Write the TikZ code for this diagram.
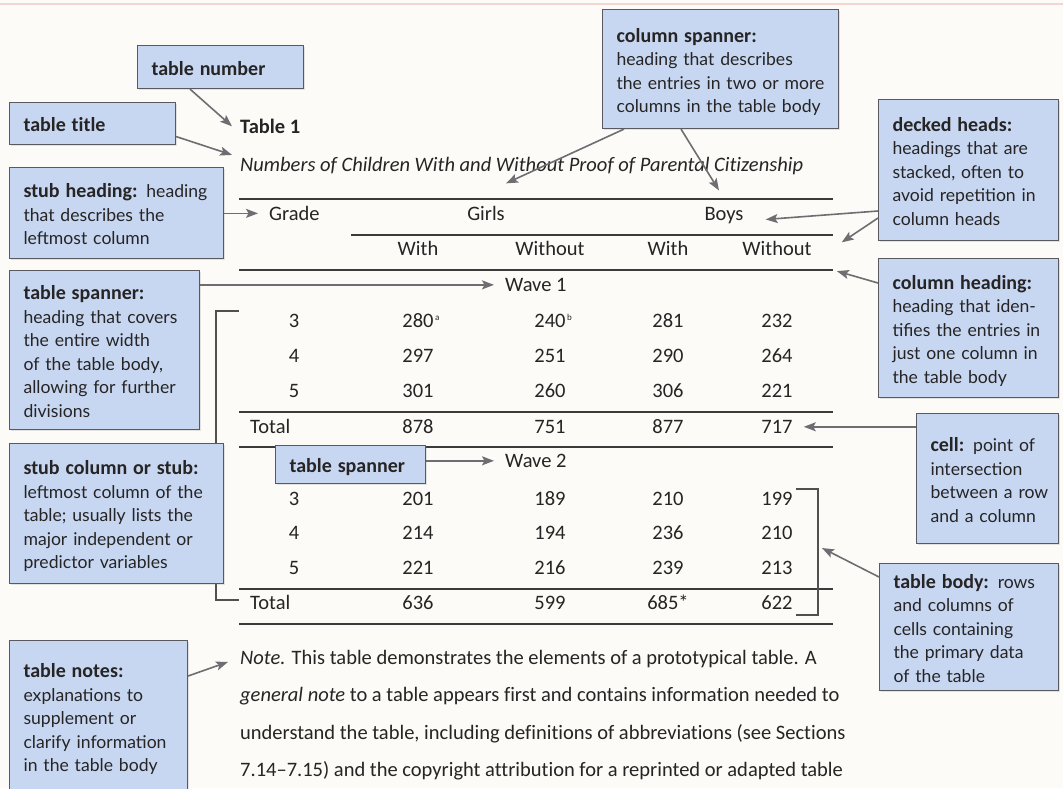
\documentclass[tikz,border=0pt]{standalone}
\usepackage{fontspec}
\setmainfont{Carlito}[Ligatures={NoCommon}]
\newfontfamily\calloutfont{Lato}
\usetikzlibrary{arrows.meta,shadows}

\definecolor{paper}{RGB}{252,251,247}
\definecolor{boxfill}{RGB}{199,215,241}
\definecolor{boxline}{RGB}{88,90,96}
\definecolor{arrowgray}{RGB}{110,110,114}
\definecolor{ink}{RGB}{38,36,36}
\definecolor{topband}{RGB}{238,190,190}

\newcommand\tabfont{\fontsize{20.5}{24}\selectfont}
\newcommand\calloutterm[1]{{\rmfamily\bfseries\fontsize{20}{23.5}\selectfont #1}}
% lines of a callout, with a little extra room on top so the block sits lower
\newcommand\calloutlines[1]{\raisebox{0pt}[\dimexpr\height+7pt\relax][\depth]{\begin{tabular}{@{}l@{}}#1\end{tabular}}}
\newcommand\supnote[1]{\rlap{\hspace{1.5pt}\raisebox{7pt}{\fontsize{9}{9}\selectfont #1}}}

\tikzset{
  callout/.style={draw=boxline, line width=1.1pt, fill=boxfill, anchor=north west,
    inner xsep=14pt, inner ysep=0pt, align=left, text=ink,
    font=\calloutfont\fontsize{17.6}{23.5}\selectfont,
    drop shadow={opacity=0.2, shadow xshift=1.5pt, shadow yshift=-1.5pt}},
  tab/.style={inner sep=0pt, text=ink, font=\tabfont, anchor=mid},
  tabw/.style={tab, anchor=mid west},
  rule/.style={draw=ink!90, line width=1.3pt},
  bracket/.style={draw=ink!80, line width=1.2pt},
  arr/.style={draw=arrowgray, line width=1.6pt, -{Stealth[length=12pt,width=9pt,inset=2.5pt]}},
}

\begin{document}
\begin{tikzpicture}[x=1pt,y=-1pt]
\clip (0,0) rectangle (1063,788);
\fill[paper] (0,0) rectangle (1063,788);
\draw[topband, line width=2.5pt, opacity=0.6] (0,4) -- (1063,4);

% horizontal rules of the table
\draw[rule] (239,199) -- (833,199);
\draw[rule] (351,235) -- (833,235);
\draw[rule] (239,270) -- (833,270);
\draw[rule] (239,412) -- (833,412);
\draw[rule] (239,447) -- (833,447);
\draw[rule] (239,589) -- (833,589);
\draw[rule] (239,624) -- (833,624);
\coordinate (r3e) at (833,270);

% brackets marking the stub column and the table body
\draw[bracket] (239,311) -- (216,311) -- (216,600) -- (239,600);
\draw[bracket] (796,489) -- (818,489) -- (818,615) -- (796,615);
\coordinate (bodybr) at (818,548);

% table number, title and headings
\node[tabw, font=\tabfont\bfseries] (tnum) at (240,131) {Table 1};
\node[tabw, font=\tabfont\itshape] (ttitle) at (240,169) {Numbers of Children With and Without Proof of Parental Citizenship};
\node[tabw] (grade) at (269,218) {Grade};
\node[tab] (girls) at (486,218) {Girls};
\node[tab] (boys) at (724,218) {Boys};
\node[tab] (wi1) at (418,253) {With};
\node[tab] (wo1) at (550,253) {Without};
\node[tab] (wi2) at (668,253) {With};
\node[tab] (wo2) at (777,253) {Without};

% wave 1
\node[tabw] (w1) at (505,289) {Wave 1};
\foreach \y/\s/\a/\b/\c/\d [count=\i] in
  {325/3/{280\supnote{a}}/{240\supnote{b}}/281/232,
   360/4/297/251/290/264,
   395/5/301/260/306/221}{
  \node[tab] (p\i-0) at (294,\y) {\s};
  \node[tab] (p\i-1) at (418,\y) {\a};
  \node[tab] (p\i-2) at (550,\y) {\b};
  \node[tab] (p\i-3) at (668,\y) {\c};
  \node[tab] (p\i-4) at (777,\y) {\d};
}
\node[tabw] (tot1) at (250,431) {Total};
\node[tab] (t1a) at (418,431) {878};
\node[tab] (t1b) at (550,431) {751};
\node[tab] (t1c) at (668,431) {877};
\node[tab] (t717) at (777,431) {717};

% wave 2
\node[tabw] (w2) at (505,465) {Wave 2};
\foreach \y/\s/\a/\b/\c/\d [count=\i] in
  {503/3/201/189/210/199,
   537.5/4/214/194/236/210,
   572/5/221/216/239/213}{
  \node[tab] (q\i-0) at (294,\y) {\s};
  \node[tab] (q\i-1) at (418,\y) {\a};
  \node[tab] (q\i-2) at (550,\y) {\b};
  \node[tab] (q\i-3) at (668,\y) {\c};
  \node[tab] (q\i-4) at (777,\y) {\d};
}
\node[tabw] (tot2) at (250,607) {Total};
\node[tab] (t2a) at (418,607) {636};
\node[tab] (t2b) at (550,607) {599};
\node[tab] (t2c) at (668,607) {685*};
\node[tab] (t2d) at (777,607) {622};

% table note
\node[tabw] (note1) at (240,662) {\textit{Note.} This table demonstrates the elements of a prototypical table. A};
\node[tabw] (note2) at (240,699.5) {\textit{general note} to a table appears first and contains information needed to};
\node[tabw] (note3) at (240,737) {understand the table, including definitions of abbreviations (see Sections};
\node[tabw] (note4) at (240,774.5) {7.14–7.15) and the copyright attribution for a reprinted or adapted table};

% callout boxes
\node[callout, minimum width=166pt, minimum height=43pt, text width=138pt] (bTN) at (137,45)
  {\calloutlines{\calloutterm{table number}}};
\node[callout, minimum width=166pt, minimum height=42pt, text width=138pt] (bTT) at (9,102)
  {\calloutlines{\calloutterm{table title}}};
\node[callout, minimum width=214pt, minimum height=91pt, text width=186pt] (bSH) at (9,167)
  {\calloutlines{\calloutterm{stub heading:} heading\\that describes the\\leftmost column}};
\node[callout, minimum width=190pt, minimum height=159pt, text width=162pt] (bTS) at (9,270)
  {\calloutlines{\calloutterm{table spanner:}\\heading that covers\\the entire width\\of the table body,\\allowing for further\\divisions}};
\node[callout, minimum width=214pt, minimum height=140pt, text width=186pt] (bSC) at (9,443)
  {\calloutlines{\calloutterm{stub column or stub:}\\leftmost column of the\\table; usually lists the\\major independent or\\predictor variables}};
\node[callout, minimum width=178pt, minimum height=152pt, text width=150pt] (bNO) at (9,640)
  {\calloutlines{\calloutterm{table notes:}\\explanations to\\supplement or\\clarify information\\in the table body}};
\node[callout, minimum width=236pt, minimum height=119pt, text width=208pt] (bCS) at (602,9)
  {\calloutlines{\calloutterm{column spanner:}\\heading that describes\\the entries in two or more\\columns in the table body}};
\node[callout, minimum width=180pt, minimum height=141pt, text width=152pt] (bDH) at (878,99)
  {\calloutlines{\calloutterm{decked heads:}\\headings that are\\stacked, often to\\avoid repetition in\\column heads}};
\node[callout, minimum width=180pt, minimum height=139pt, text width=152pt] (bCH) at (878,258)
  {\calloutlines{\calloutterm{column heading:}\\heading that iden-\\tifies the entries in\\just one column in\\the table body}};
\node[callout, minimum width=142pt, minimum height=130pt, text width=114pt] (bCE) at (916,413)
  {\calloutlines{\calloutterm{cell:} point of\\intersection\\between a row\\and a column}};
\node[callout, minimum width=179pt, minimum height=127pt, text width=151pt] (bTB) at (879,563)
  {\calloutlines{\calloutterm{table body:} rows\\and columns of\\cells containing\\the primary data\\of the table}};
\node[callout, minimum width=150pt, minimum height=38pt, text width=122pt] (bTS2) at (275,445)
  {\calloutlines{\calloutterm{table spanner}}};

% pointers from the callouts to the table parts
\draw[arr] ([xshift=53pt]bTN.south west) -- ([xshift=-8pt]tnum.west);
\draw[arr] ([yshift=-13pt]bTT.east) -- ([xshift=-8pt,yshift=11pt]ttitle.west);
\draw[arr] (bSH.east |- grade.west) -- ([xshift=-11pt]grade.west);
\draw[arr] (bTS.east |- w1.west) -- ([xshift=-11pt]w1.west);
\draw[arr] (bTS2.east |- w2.west) -- ([xshift=-11pt]w2.west);
\draw[arr] ([xshift=22pt]bCS.south west) -- ([xshift=20pt,yshift=30pt]girls.center);
\draw[arr] ([xshift=79pt]bCS.south west) -- ([xshift=-5pt,yshift=25pt]boys.center);
\draw[arr] ([yshift=-112pt]bDH.north west) -- ([xshift=22pt,yshift=-4pt]boys.east);
\draw[arr] ([yshift=-119pt]bDH.north west) -- ([xshift=30pt,yshift=6pt]wo2.east);
\draw[arr, shorten >=4pt] ([yshift=-25pt]bCH.north west) -- (r3e);
\draw[arr] (bCE.west |- t717.east) -- ([xshift=11pt]t717.east);
\draw[arr] ([yshift=-14pt]bTB.north west) -- ([xshift=4pt]bodybr);
\draw[arr] ([yshift=-36pt]bNO.north east) -- ([xshift=-12pt,yshift=-3pt]note1.west);
\end{tikzpicture}
\end{document}
